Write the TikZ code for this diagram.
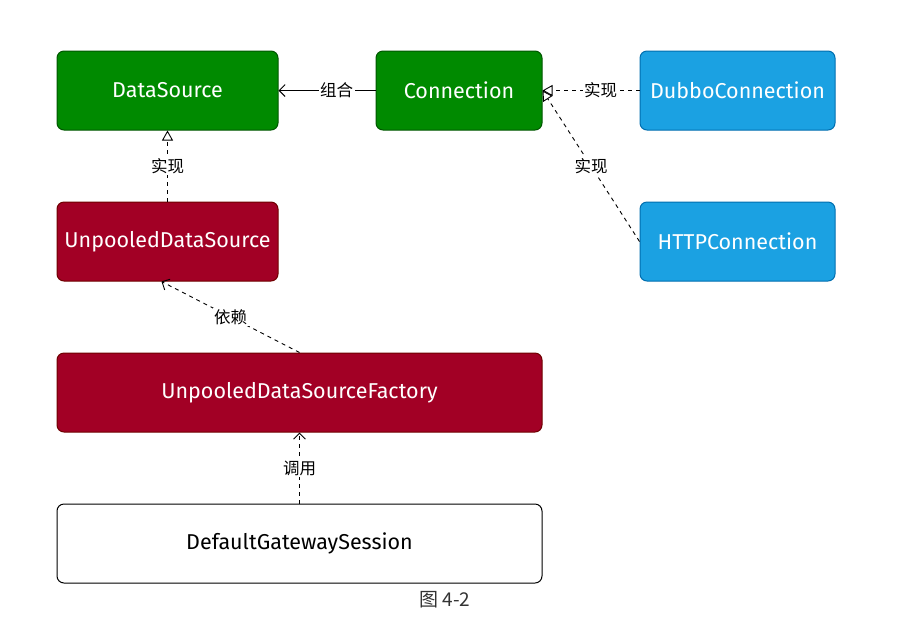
\documentclass[tikz,border=0pt]{standalone}
\usepackage{fontspec}
\setmainfont{Fira Sans}
\newfontfamily\cjk{Noto Sans CJK SC}
\usetikzlibrary{arrows.meta,positioning}
\definecolor{ifacegreen}{HTML}{008A00}
\definecolor{ifacegreendark}{HTML}{005700}
\definecolor{connblue}{HTML}{1BA1E2}
\definecolor{connbluedark}{HTML}{006EAF}
\definecolor{poolred}{HTML}{A20025}
\definecolor{poolreddark}{HTML}{6F0000}

\begin{document}
\begin{tikzpicture}[x=1pt, y=1pt,
    box/.style={draw, rounded corners=7pt, align=center, line width=1pt, font=\fontsize{21.5}{24}\selectfont, minimum height=79pt},
    iface/.style={box, fill=ifacegreen, draw=ifacegreendark, text=white},
    impl/.style={box, fill=connblue, draw=connbluedark, text=white},
    pool/.style={box, fill=poolred, draw=poolreddark, text=white},
    sessionbox/.style={box, fill=white, draw=black},
    lbl/.style={font=\cjk\fontsize{16.5}{18}\selectfont, fill=white, inner sep=1.5pt},
    comp/.style={line width=0.9pt, -{Straight Barb[length=6pt, width=12pt]}},
    dep/.style={line width=0.9pt, dash pattern=on 4pt off 4pt, -{Straight Barb[length=6pt, width=12pt]}},
    real/.style={line width=0.9pt, dash pattern=on 4pt off 4pt, -{Triangle[open, fill=white, length=10pt, width=11pt]}}
  ]
    \useasboundingbox (0,0) rectangle (902,-641);
    \node[iface, minimum width=221pt] (ds) at (167.5,-90.5) {DataSource};
    \node[iface, minimum width=166pt, right=97pt of ds] (conn) {Connection};
    \node[impl, minimum width=195pt, right=97pt of conn] (dubbo) {DubboConnection};
    \node[impl, minimum width=195pt, below=71pt of dubbo] (http) {HTTPConnection};
    \node[pool, minimum width=221pt, below=71pt of ds] (uds) {UnpooledDataSource};
    \node[pool, minimum width=485pt, below=71pt of uds.south west, anchor=north west] (udsf) {UnpooledDataSourceFactory};
    \node[sessionbox, minimum width=485pt, below=71pt of udsf] (session) {DefaultGatewaySession};
    \node[font=\cjk\fontsize{19}{21}\selectfont, text=black!80] (caption) at (445,-600) {图 4-2};
    \draw[comp] (conn) -- node[lbl, pos=0.4] {组合} (ds);
    \draw[real] (dubbo) -- node[lbl, pos=0.4] {实现} (conn);
    \draw[real] (http.west) -- node[lbl] {实现} (conn.east);
    \draw[real] (uds) -- node[lbl] {实现} (ds);
    \draw[dep] (udsf.north) -- node[lbl] {依赖} ([xshift=-6pt]uds.south);
    \draw[dep] (session) -- node[lbl] {调用} (udsf);
  \end{tikzpicture}
\end{document}
